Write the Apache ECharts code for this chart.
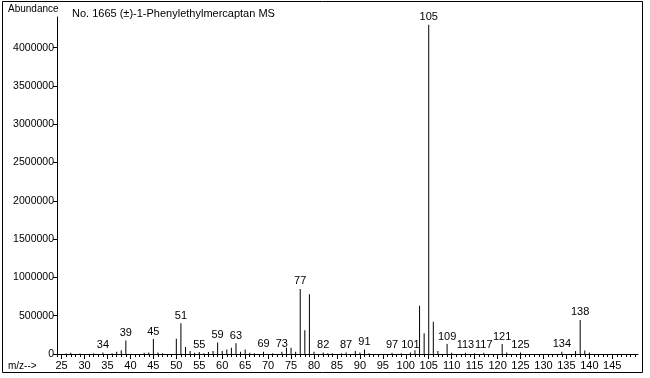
<!DOCTYPE html>
<html>
<head>
<meta charset="utf-8">
<script src="https://cdn.jsdelivr.net/npm/echarts@6/dist/echarts.min.js"></script>
<style>
  html, body {margin: 0; padding: 0; background: #fff;}
  #chart {width: 650px; height: 378px;}
</style>
</head>
<body>
<div id="chart"></div>
<script>
// m/z values and abundances
const mz = [26, 27, 29, 32, 34, 36, 37, 38, 39, 43, 44, 45, 46, 47, 50, 51, 52, 53, 54, 55, 56, 57, 58, 59, 60,
  61, 62, 63, 64, 65, 66, 67, 69, 71, 73, 74, 75, 76, 77, 78, 79, 80, 82, 83, 84, 86, 87, 89, 90, 91, 92,
  97, 99, 101, 102, 103, 104, 105, 106, 107, 109, 110, 113, 115, 117, 121, 122, 125, 134, 137, 138, 139, 140];
const abundance = [5000, 15000, 8000, 10000, 20000, 10000, 30000, 50000, 175000, 15000, 20000, 195000, 20000, 10000,
  200000, 400000, 90000, 40000, 15000, 25000, 10000, 25000, 40000, 150000, 40000,
  60000, 80000, 140000, 30000, 60000, 15000, 10000, 30000, 10000, 30000, 80000, 80000, 30000, 850000, 310000, 780000, 30000,
  20000, 10000, 10000, 10000, 20000, 40000, 20000, 60000, 10000,
  15000, 10000, 20000, 50000, 630000, 270000, 4300000, 420000, 40000, 130000, 15000, 15000, 10000, 15000, 130000, 20000,
  20000, 30000, 40000, 445000, 45000, 20000];
const labelled = [34, 39, 45, 51, 55, 59, 63, 69, 73, 77, 82, 87, 91, 97, 101, 105, 109, 113, 117, 121, 125, 134, 138];
const xTickLabels = [25, 30, 35, 40, 45, 50, 55, 60, 65, 70, 75, 80, 85, 90, 95, 100, 105, 110, 115, 120, 125, 130, 135, 140, 145];
const yTickLabels = [0, 500000, 1000000, 1500000, 2000000, 2500000, 3000000, 3500000, 4000000];

const minorTicks = [];
for (let v = 24; v <= 150; v++) minorTicks.push(v);

const font = 'Liberation Sans, Arial, sans-serif';

const chart = echarts.init(document.getElementById('chart'));
chart.setOption({
  animation: false,
  backgroundColor: '#fff',
  grid: {left: 57, right: 12, top: 17, bottom: 24},
  xAxis: [
    {
      type: 'value', min: 24, max: 150.6,
      axisLine: {lineStyle: {color: '#000', width: 1}},
      axisTick: {customValues: minorTicks, length: 3, lineStyle: {color: '#000'}},
      axisLabel: {customValues: xTickLabels, color: '#000', fontSize: 11, fontFamily: font, margin: 6},
      splitLine: {show: false}
    },
    {
      type: 'value', min: 24, max: 150.6, position: 'bottom',
      axisLine: {show: false},
      axisTick: {customValues: xTickLabels, length: 5, lineStyle: {color: '#000'}},
      axisLabel: {show: false},
      splitLine: {show: false}
    }
  ],
  yAxis: {
    type: 'value', min: 0, max: 4400000,
    axisLine: {show: true, lineStyle: {color: '#000', width: 1}},
    axisTick: {show: true, customValues: yTickLabels, length: 4, lineStyle: {color: '#000'}},
    axisLabel: {
      customValues: yTickLabels, color: '#000', fontSize: 10.5, fontFamily: font, margin: 3,
      formatter: v => String(v)
    },
    splitLine: {show: false}
  },
  graphic: [
    {type: 'rect', shape: {x: 2.5, y: 1.5, width: 640, height: 371}, style: {fill: 'none', stroke: '#000', lineWidth: 1}, silent: true},
    {type: 'text', left: 8, top: 4, style: {text: 'Abundance', font: '10px ' + font, fill: '#000'}},
    {type: 'text', left: 8, top: 361, style: {text: 'm/z-->', font: '10px ' + font, fill: '#000'}},
    {type: 'text', left: 72, top: 8, style: {text: 'No. 1665 (±)-1-Phenylethylmercaptan MS', font: '11px ' + font, fill: '#000'}}
  ],
  series: [{
    type: 'bar',
    barWidth: 1,
    itemStyle: {color: '#000'},
    data: mz.map((m, i) => ({
      value: [m, abundance[i]],
      label: {
        show: labelled.includes(m), position: 'top', distance: 2,
        formatter: String(m), color: '#000', fontSize: 11, fontFamily: font
      }
    }))
  }]
});
</script>
</body>
</html>
